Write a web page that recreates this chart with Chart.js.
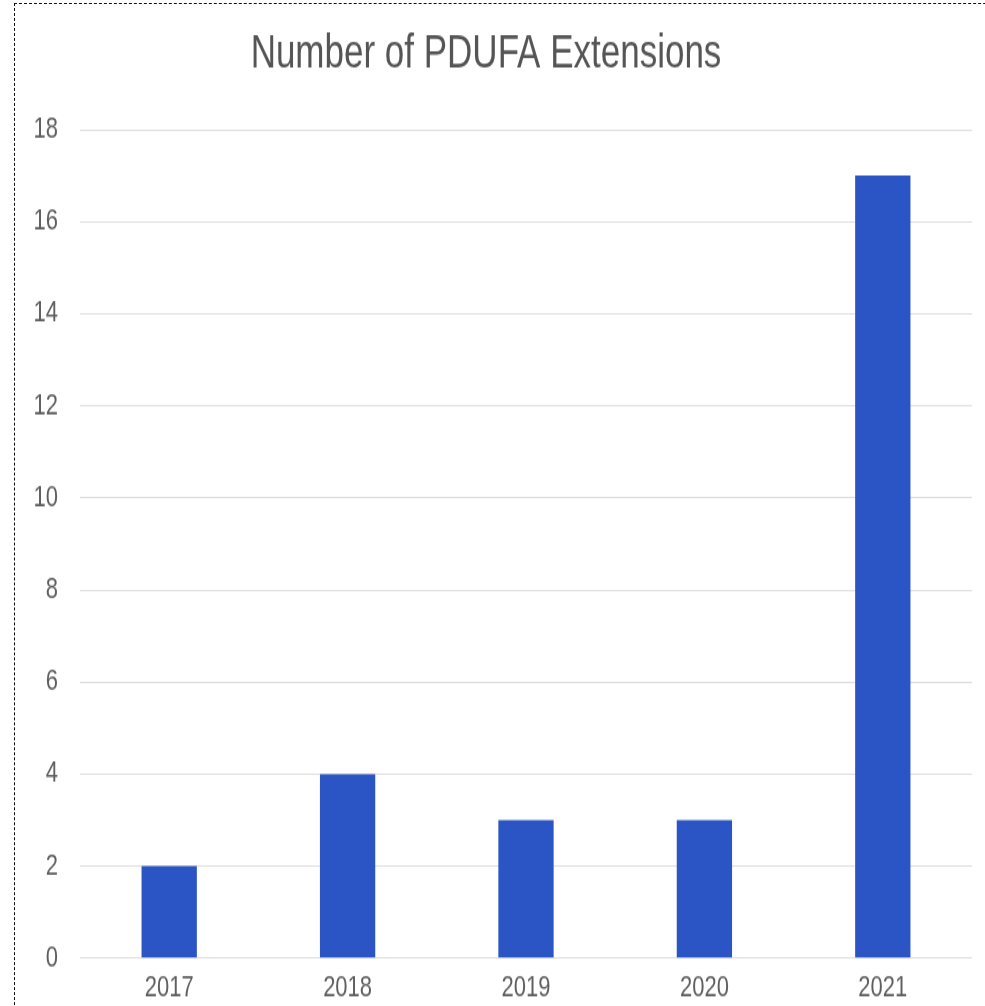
<!DOCTYPE html>
<html>
<head>
<meta charset="utf-8">
<script src="https://cdn.jsdelivr.net/npm/chart.js@4"></script>
<style>
  html, body { margin: 0; padding: 0; background: #fff; overflow: hidden; }
  #frame {
    position: absolute; left: 14px; top: 3px;
    width: 1100px; height: 1100px;
    border: 1px dashed #111;
  }
  #wrap {
    position: absolute; left: 0; top: 0;
    width: 985px; height: 745px;
    transform: scaleY(1.35); transform-origin: 0 0;
  }
</style>
</head>
<body>
<div id="frame"></div>
<div id="wrap"><canvas id="pdufaChart"></canvas></div>
<script>
var years = ["2017", "2018", "2019", "2020", "2021"];
var extensions = [2, 4, 3, 3, 17];
var yTicks = [0, 2, 4, 6, 8, 10, 12, 14, 16, 18];

Chart.defaults.font.family = "Arial, 'Liberation Sans', sans-serif";

new Chart("pdufaChart", {
    type: "bar",
    data: {
        labels: years,
        datasets: [{
            data: extensions,
            backgroundColor: "#2b55c4",
            barPercentage: 0.31,
            categoryPercentage: 1
        }]
    },
    options: {
        responsive: true,
        maintainAspectRatio: false,
        animation: false,
        layout: { padding: { left: 0, right: 13, top: 0, bottom: 0 } },
        plugins: {
            legend: { display: false },
            tooltip: { enabled: false },
            title: {
                display: true,
                text: "Number of PDUFA Extensions",
                color: "#555",
                font: { size: 35, weight: "normal" },
                padding: { top: 19, bottom: 35 }
            }
        },
        scales: {
            y: {
                min: 0,
                max: 18,
                afterBuildTicks: function (s) {
                    s.ticks = yTicks.map(function (v) { return { value: v }; });
                },
                afterFit: function (s) { s.width = 80; },
                border: { display: false },
                grid: { color: "#dedede", drawTicks: false },
                ticks: { color: "#5f5f5f", font: { size: 22 }, padding: 22 }
            },
            x: {
                afterFit: function (s) { s.height = 35; },
                border: { display: false },
                grid: { display: false },
                ticks: { color: "#5f5f5f", font: { size: 22 }, padding: 1 }
            }
        }
    }
});
</script>
</body>
</html>
